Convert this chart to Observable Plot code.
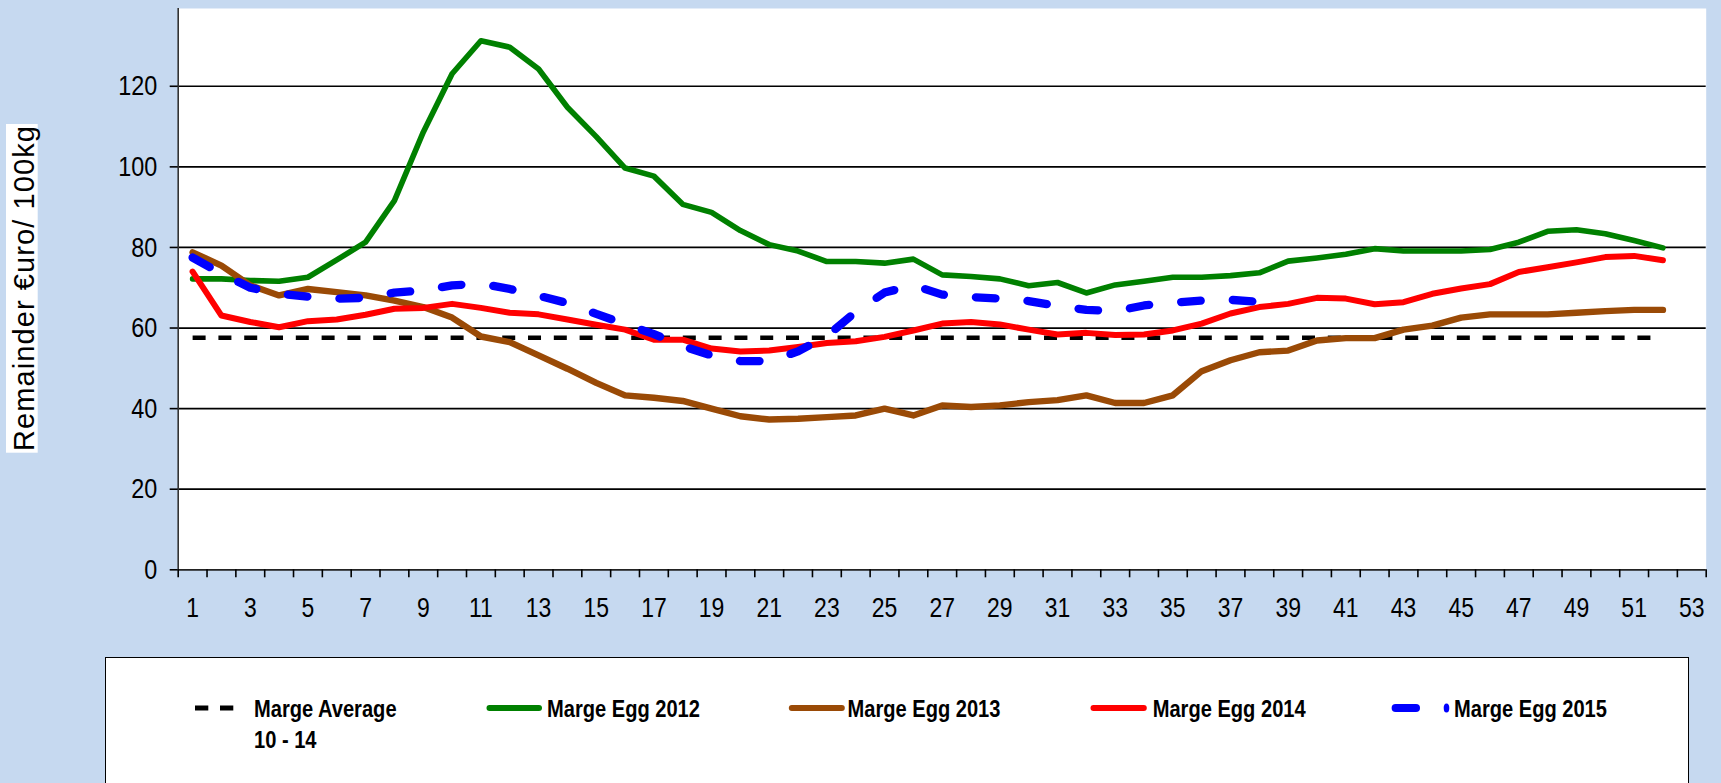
<!DOCTYPE html>
<html><head><meta charset="utf-8">
<script src="https://cdn.jsdelivr.net/npm/d3@7"></script>
<script src="https://cdn.jsdelivr.net/npm/@observablehq/plot@0.6"></script>
<style>
html,body{margin:0;padding:0;background:#C6D9F0;}
body{width:1721px;height:783px;overflow:hidden;position:relative;}
#chart{position:absolute;left:0;top:0;}
#ytitle{position:absolute;left:0;top:0;}
#legend{position:absolute;left:105px;top:657px;width:1584px;height:140px;background:#fff;border:1.5px solid #000;box-sizing:border-box;}
#legend svg{position:absolute;left:-1.5px;top:-1.5px;}
</style></head>
<body>
<div id="chart"></div>
<svg id="ytitle" width="60" height="783">
  <rect x="6" y="124" width="31.7" height="328.7" fill="#fff"></rect>
  <text transform="translate(33.5,288) rotate(-90)" text-anchor="middle" font-family="'Liberation Sans', Arial, sans-serif" font-size="29" letter-spacing="1.1" fill="#000">Remainder €uro/ 100kg</text>
</svg>
<div id="legend"></div>
<script>
const weeks = [1,2,3,4,5,6,7,8,9,10,11,12,13,14,15,16,17,18,19,20,21,22,23,24,25,26,27,28,29,30,31,32,33,34,35,36,37,38,39,40,41,42,43,44,45,46,47,48,49,50,51,52];
const avg1014 = [57.6,57.6,57.6,57.6,57.6,57.6,57.6,57.6,57.6,57.6,57.6,57.6,57.6,57.6,57.6,57.6,57.6,57.6,57.6,57.6,57.6,57.6,57.6,57.6,57.6,57.6,57.6,57.6,57.6,57.6,57.6,57.6,57.6,57.6,57.6,57.6,57.6,57.6,57.6,57.6,57.6,57.6,57.6,57.6,57.6,57.6,57.6,57.6,57.6,57.6,57.6,57.6];
const egg2012 = [72.2,72.2,71.8,71.6,72.6,76.9,81.3,91.6,108.6,123.1,131.3,129.7,124.3,114.8,107.5,99.7,97.7,90.7,88.7,84.2,80.7,79.1,76.5,76.5,76.1,77.1,73.2,72.8,72.2,70.5,71.3,68.7,70.7,71.6,72.6,72.6,73.0,73.7,76.6,77.4,78.3,79.7,79.1,79.1,79.1,79.5,81.3,84.0,84.4,83.4,81.7,79.9];
const egg2013 = [78.8,75.5,70.6,68.1,69.7,68.9,68.1,66.8,65.2,62.6,57.9,56.5,53.2,49.9,46.4,43.3,42.7,41.9,40.0,38.1,37.3,37.5,37.9,38.3,40.0,38.3,40.8,40.4,40.8,41.6,42.1,43.3,41.4,41.4,43.3,49.3,52.0,54.0,54.4,56.9,57.5,57.5,59.6,60.6,62.6,63.4,63.4,63.4,63.8,64.2,64.5,64.5];
const egg2014 = [74.0,63.1,61.5,60.2,61.7,62.1,63.3,64.8,65.0,66.0,65.0,63.8,63.4,62.1,60.8,59.6,57.1,57.1,54.9,54.2,54.4,55.3,56.3,56.7,57.8,59.4,61.1,61.5,60.9,59.6,58.4,58.8,58.3,58.4,59.4,61.1,63.6,65.2,66.0,67.5,67.3,65.9,66.4,68.5,69.8,70.9,73.9,75.1,76.3,77.6,77.9,76.8];
const egg2015 = [77.5,73.5,70.0,68.5,67.8,67.3,67.5,68.8,69.3,70.6,71.0,69.7,68.0,66.2,63.5,61.0,58.5,55.5,53.2,51.8,51.8,54.2,58.0,64.0,68.8,70.6,68.3,67.7,67.3,66.7,65.5,64.5,64.2,65.6,66.3,66.8,67.0,66.5];
const yTicks = [0,20,40,60,80,100,120];
const xLabels = [1,3,5,7,9,11,13,15,17,19,21,23,25,27,29,31,33,35,37,39,41,43,45,47,49,51,53];
const seriesNames = ["Marge Average\n10 - 14","Marge Egg 2012","Marge Egg 2013","Marge Egg 2014","Marge Egg 2015"];

const SANS = '"Liberation Sans", Arial, sans-serif';
const SQUEEZE = 0.82; // emulate the narrow face of the original
const styles = [
  {values: avg1014, stroke:"#000000", width:4.6, dash:"13,12.8", cap:"butt"},
  {values: egg2012, stroke:"#008000", width:5.6, dash:null, cap:"round"},
  {values: egg2013, stroke:"#9A4A06", width:6.4, dash:null, cap:"round"},
  {values: egg2014, stroke:"#FF0000", width:6, dash:null, cap:"round"},
  {values: egg2015, stroke:"#0000FF", width:8.3, dash:"19.6,32.1", cap:"round"}
];
const boundaries = d3.range(0.5, 54, 1);

const chart = Plot.plot({
  width: 1721, height: 657,
  marginLeft: 177.7, marginRight: 15.3, marginTop: 8, marginBottom: 87.7,
  x: {type: "linear", domain: [0.5, 53.5], axis: null},
  y: {type: "linear", domain: [0, 139.3], axis: null},
  style: {background: "transparent", fontFamily: SANS, fontSize: "28px", color: "#000", overflow: "visible"},
  marks: [
    Plot.frame({fill: "#ffffff", stroke: null}),
    Plot.ruleY(yTicks.filter(v => v > 0), {stroke: "#000", strokeWidth: 1.7}),
    Plot.ruleX([0.5], {stroke: "#333", strokeWidth: 1.6}),
    Plot.ruleY([0], {stroke: "#222", strokeWidth: 1.8}),
    Plot.axisY({ticks: yTicks, tickSize: 8, tickPadding: 13, tickFormat: d => String(d), strokeWidth: 1.6, fontSize: 28.5}),
    Plot.axisX({ticks: boundaries, tickSize: 8, tickFormat: () => "", strokeWidth: 1.6}),
    Plot.axisX({ticks: xLabels, tickSize: 0, tickPadding: 27.4, tickFormat: d => String(d), fontSize: 28}),
    ...styles.map(s => Plot.line(s.values, {
      x: (d, i) => weeks[i], y: d => d,
      stroke: s.stroke, strokeWidth: s.width,
      strokeDasharray: s.dash, strokeLinecap: s.cap, strokeLinejoin: "round"
    }))
  ]
});
document.getElementById("chart").appendChild(chart);

function squeeze(t) {
  const w = t.getComputedTextLength();
  if (w > 0) { t.setAttribute("textLength", (w * SQUEEZE).toFixed(2)); t.setAttribute("lengthAdjust", "spacingAndGlyphs"); }
}
chart.querySelectorAll('g[aria-label$="tick label"] text').forEach(squeeze);

// legend (below the chart)
const ns = "http://www.w3.org/2000/svg";
const lg = document.createElementNS(ns, "svg");
lg.setAttribute("width", 1584); lg.setAttribute("height", 140);
document.getElementById("legend").appendChild(lg);
const el = (tag, attrs, txt) => { const e = document.createElementNS(ns, tag); for (const k in attrs) e.setAttribute(k, attrs[k]); if (txt != null) e.textContent = txt; lg.appendChild(e); return e; };
const swatch = [
  {x1: 90, x2: 128.3, tx: 149},
  {x1: 384.5, x2: 434, tx: 442},
  {x1: 686.8, x2: 736.8, tx: 742.5},
  {x1: 988.5, x2: 1038.8, tx: 1047.7},
  {x1: 1290.6, x2: 1311, tx: 1349}
];
const ly = 51;
swatch.forEach((s, i) => {
  const st = styles[i];
  if (i === 0) {
    el("line", {x1: s.x1, x2: s.x2, y1: ly, y2: ly, stroke: st.stroke, "stroke-width": 5, "stroke-dasharray": "13.3,11.7"});
  } else if (i === 4) {
    el("line", {x1: s.x1, x2: s.x2, y1: ly, y2: ly, stroke: st.stroke, "stroke-width": 8, "stroke-linecap": "round"});
    el("ellipse", {cx: 1341.5, cy: ly, rx: 2.8, ry: 4.5, fill: st.stroke});
  } else {
    el("line", {x1: s.x1, x2: s.x2, y1: ly, y2: ly, stroke: st.stroke, "stroke-width": 6, "stroke-linecap": "round"});
  }
  const lines = seriesNames[i].split("\n");
  lines.forEach((t, j) => {
    const e = el("text", {x: s.tx, y: 59.7 + j * 31, "font-family": SANS, "font-weight": "bold", "font-size": 24.5, fill: "#000"}, t);
    squeeze(e);
  });
});
</script>
</body></html>
